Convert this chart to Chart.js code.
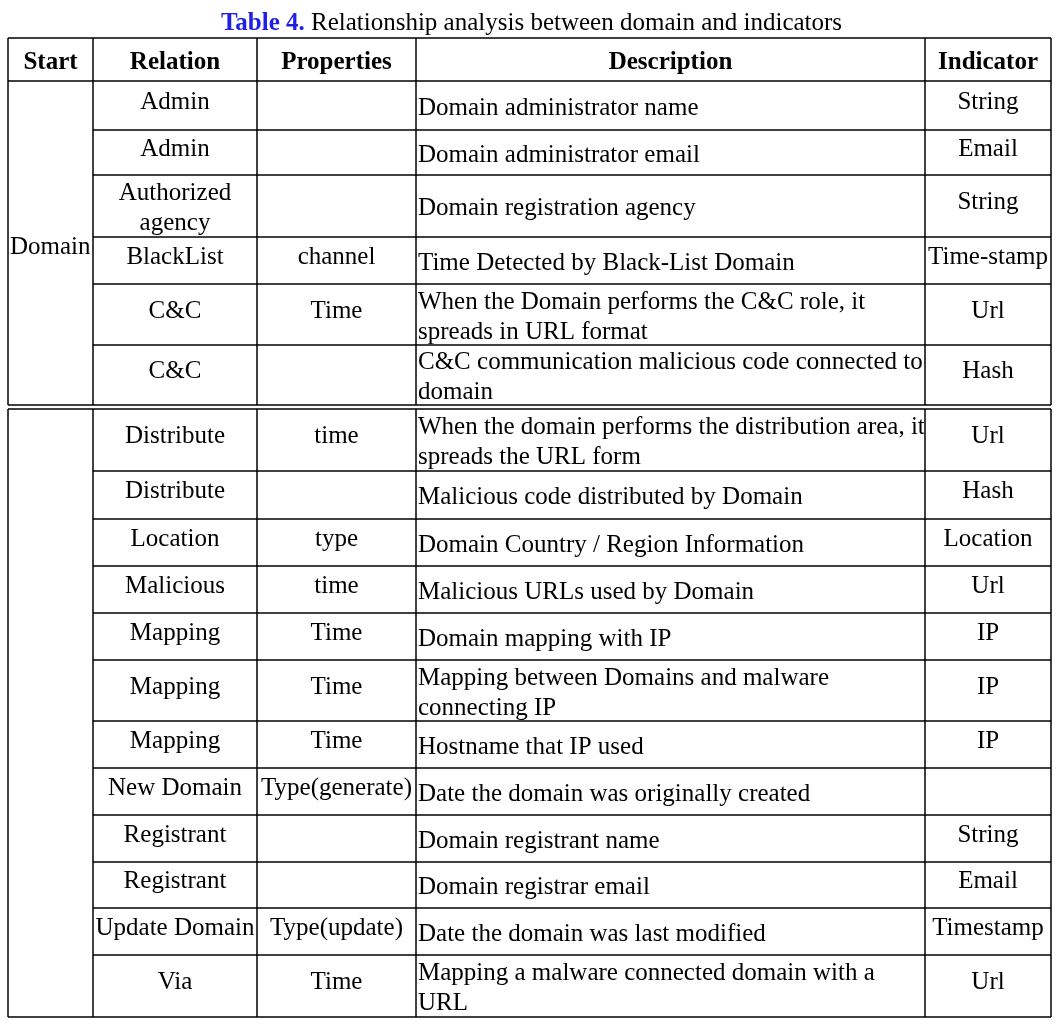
<!DOCTYPE html>
<html>
<head>
<meta charset="utf-8">
<title>Table 4</title>
<script src="https://cdn.jsdelivr.net/npm/chart.js@4.4.0/dist/chart.umd.min.js"></script>
<style>
  html, body { margin: 0; padding: 0; background: #fff; }
  canvas { display: block; }
</style>
</head>
<body>
<canvas id="tableChart" width="1063" height="1026"></canvas>
<script>
// table content, top to bottom ("\n" = line break inside a cell)
const titleLabel = "Table 4.";
const titleText = "Relationship analysis between domain and indicators";
const headers = ["Start", "Relation", "Properties", "Description", "Indicator"];
const startGroups = ["Domain", ""];
const groupSizes = [6, 12];
const relations = ["Admin", "Admin", "Authorized\nagency", "BlackList", "C&C", "C&C",
    "Distribute", "Distribute", "Location", "Malicious", "Mapping", "Mapping", "Mapping",
    "New Domain", "Registrant", "Registrant", "Update Domain", "Via"];
const properties = ["", "", "", "channel", "Time", "",
    "time", "", "type", "time", "Time", "Time", "Time",
    "Type(generate)", "", "", "Type(update)", "Time"];
const descriptions = [
    "Domain administrator name",
    "Domain administrator email",
    "Domain registration agency",
    "Time Detected by Black-List Domain",
    "When the Domain performs the C&C role, it\nspreads in URL format",
    "C&C communication malicious code connected to\ndomain",
    "When the domain performs the distribution area, it\nspreads the URL form",
    "Malicious code distributed by Domain",
    "Domain Country / Region Information",
    "Malicious URLs used by Domain",
    "Domain mapping with IP",
    "Mapping between Domains and malware\nconnecting IP",
    "Hostname that IP used",
    "Date the domain was originally created",
    "Domain registrant name",
    "Domain registrar email",
    "Date the domain was last modified",
    "Mapping a malware connected domain with a\nURL"];
const indicators = ["String", "Email", "String", "Time-stamp", "Url", "Hash",
    "Url", "Hash", "Location", "Url", "IP", "IP", "IP",
    "", "String", "Email", "Timestamp", "Url"];

// layout (table units = px, measured from the table's top-left corner)
const colEdges = [0, 85, 249, 408, 917, 1043];
const headerH = 43;
const rowHeights = [49, 45, 62, 47, 61, 60,
    62, 48, 47, 47, 47, 61, 47, 47, 47, 46, 47, 62];
const groupGap = 4;
const lineGap = 30;
const fontSize = 25;
const serif = '"Liberation Serif", "Times New Roman", serif';

function linesOf(s) { return s ? s.split("\n") : []; }

// build row boxes
var rows = [];
var groups = [];
var y = 0;
var idx = 0;
groupSizes.forEach(function (n, g) {
    var top = y;
    if (g === 0) y += headerH;
    var first = y;
    for (var k = 0; k < n; k++) {
        var h = rowHeights[idx];
        rows.push({ i: idx, top: y, bottom: y + h });
        y += h;
        idx++;
    }
    groups.push({ top: top, first: first, bottom: y, label: startGroups[g] });
    if (g < groupSizes.length - 1) y += groupGap;
});
const tableH = y;
const tableTop = 38;
const tableLeft = 8;
const canvasW = 1063, canvasH = 1026;

const tablePlugin = {
    id: "tablePlugin",
    afterDraw(chart) {
        var ctx = chart.ctx;
        var sx = chart.scales.x, sy = chart.scales.y;
        var X = function (v) { return sx.getPixelForValue(v); };
        var Y = function (v) { return sy.getPixelForValue(v); };

        ctx.save();
        // title
        ctx.textBaseline = "alphabetic";
        ctx.font = "bold " + fontSize + "px " + serif;
        var w1 = ctx.measureText(titleLabel + " ").width;
        ctx.font = fontSize + "px " + serif;
        var w2 = ctx.measureText(titleText).width;
        var tx = canvasW / 2 - (w1 + w2) / 2;
        ctx.fillStyle = "#1f1fe6";
        ctx.font = "bold " + fontSize + "px " + serif;
        ctx.fillText(titleLabel, tx, 30);
        ctx.fillStyle = "#000";
        ctx.font = fontSize + "px " + serif;
        ctx.fillText(titleText, tx + w1, 30);

        // grid lines
        ctx.strokeStyle = "#000";
        ctx.lineWidth = 1.5;
        function line(x0, y0, x1, y1) {
            ctx.beginPath();
            ctx.moveTo(X(x0), Y(y0));
            ctx.lineTo(X(x1), Y(y1));
            ctx.stroke();
        }
        var right = colEdges[colEdges.length - 1];
        groups.forEach(function (g) {
            line(0, g.top, right, g.top);
            line(0, g.bottom, right, g.bottom);
            colEdges.forEach(function (e) { line(e, g.top, e, g.bottom); });
            if (g.first > g.top) line(0, g.first, right, g.first);
        });
        rows.forEach(function (r, k) {
            var next = rows[k + 1];
            if (next && next.top === r.bottom) line(colEdges[1], r.bottom, right, r.bottom);
        });

        // text
        function cell(text, col, top, bottom, align, shift) {
            var ls = linesOf(text);
            if (!ls.length) return;
            var mid = (top + bottom) / 2 + shift(ls.length);
            var x0 = colEdges[col], x1 = colEdges[col + 1];
            var px;
            if (align === "left") { ctx.textAlign = "left"; px = X(x0) + 2; }
            else { ctx.textAlign = "center"; px = (X(x0) + X(x1)) / 2; }
            ls.forEach(function (s, j) {
                var ly = mid + (j - (ls.length - 1) / 2) * lineGap;
                ctx.fillText(s, px, Y(ly) + 8);
            });
        }
        var centredShift = function (n) { return n > 1 ? 1 : -5; };
        var descShift = function () { return 1; };

        ctx.fillStyle = "#000";
        ctx.font = "bold " + fontSize + "px " + serif;
        headers.forEach(function (h, c) {
            cell(h, c, 0, headerH, "center", function () { return 1.5; });
        });

        ctx.font = fontSize + "px " + serif;
        groups.forEach(function (g) {
            if (!g.label) return;
            ctx.textAlign = "left";
            ctx.fillText(g.label, X(0) + 2, Y((g.first + g.bottom) / 2 + 3) + 8);
        });
        rows.forEach(function (r) {
            cell(relations[r.i], 1, r.top, r.bottom, "center", centredShift);
            cell(properties[r.i], 2, r.top, r.bottom, "center", centredShift);
            cell(descriptions[r.i], 3, r.top, r.bottom, "left", descShift);
            cell(indicators[r.i], 4, r.top, r.bottom, "center", centredShift);
        });
        ctx.restore();
    }
};

new Chart(document.getElementById("tableChart"), {
    type: "scatter",
    data: { datasets: [{ data: [], pointRadius: 0 }] },
    options: {
        responsive: false,
        animation: false,
        devicePixelRatio: 1,
        layout: {
            padding: {
                left: tableLeft,
                top: tableTop,
                right: canvasW - tableLeft - colEdges[colEdges.length - 1],
                bottom: canvasH - tableTop - tableH
            }
        },
        plugins: {
            legend: { display: false },
            tooltip: { enabled: false },
            title: { display: false }
        },
        scales: {
            x: { type: "linear", display: false, min: 0, max: colEdges[colEdges.length - 1] },
            y: { type: "linear", display: false, min: 0, max: tableH, reverse: true }
        }
    },
    plugins: [tablePlugin]
});
</script>
</body>
</html>
